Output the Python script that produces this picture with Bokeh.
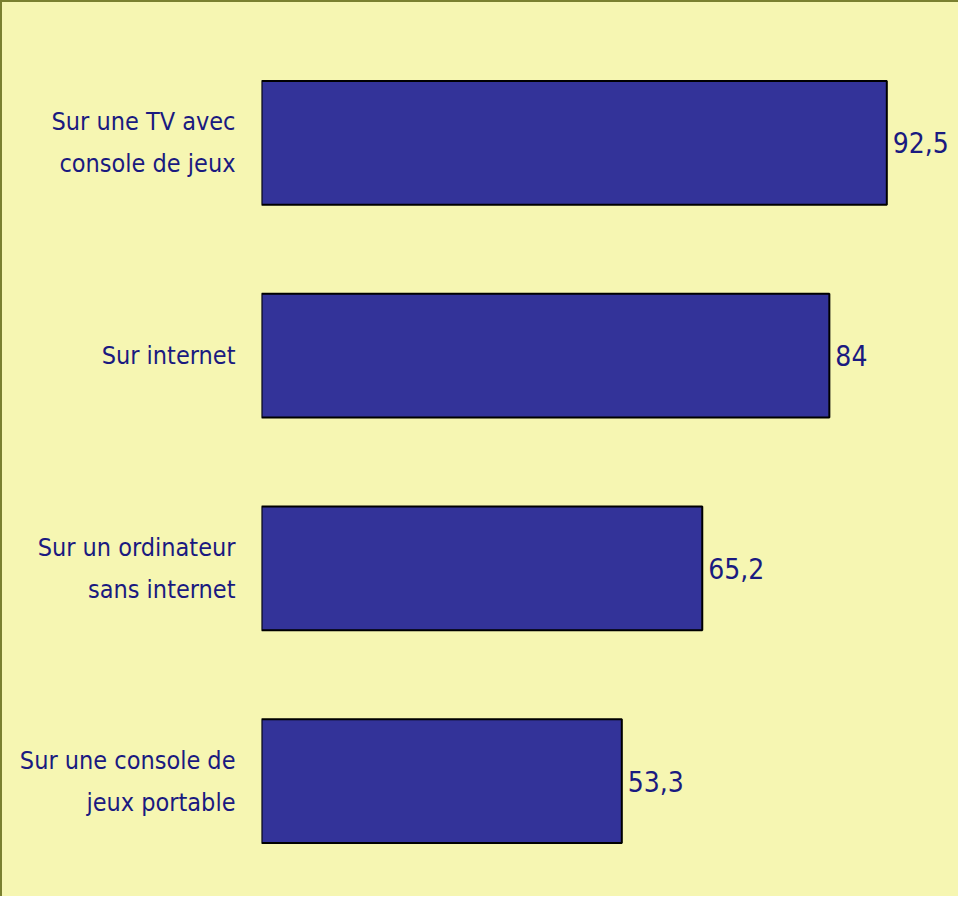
from bokeh.plotting import figure
from bokeh.models import ColumnDataSource, Range1d, FactorRange
from bokeh.embed import file_html
from bokeh.resources import INLINE
from bokeh.core.properties import value

categories = ["Sur une TV avec\nconsole de jeux", "Sur internet",
              "Sur un ordinateur\nsans internet", "Sur une console de\njeux portable"]
values = [92.5, 84, 65.2, 53.3]
value_labels = ["92,5", "84", "65,2", "53,3"]

BG = "#F6F6B2"
NAVY = "#333399"
TXT = "#1A1A80"
FONT = "'DejaVu Sans Condensed', Roboto, sans-serif"

src = ColumnDataSource(dict(cat=categories, val=values, lab=value_labels))

p = figure(width=958, height=896, output_backend="svg", toolbar_location=None,
           y_range=FactorRange(factors=categories[::-1]),
           x_range=Range1d(0, 103.4))
p.min_border_left = 259
p.min_border_right = 0
p.min_border_top = 34
p.min_border_bottom = 11
p.background_fill_color = BG
p.background_fill_alpha = 0
p.border_fill_color = BG
p.border_fill_alpha = 0
p.outline_line_color = None
p.grid.visible = False
p.xaxis.visible = False

p.hbar(y="cat", right="val", left=0, height=0.582, source=src,
       fill_color=NAVY, line_color="black", line_width=2)
p.text(x="val", y="cat", text="lab", source=src, x_offset=6,
       text_align="left", text_baseline="middle", text_color=TXT,
       text_font=value(FONT), text_font_size="28px")

ax = p.yaxis[0]
ax.axis_line_color = None
ax.major_tick_line_color = None
ax.minor_tick_line_color = None
ax.major_tick_out = 0
ax.major_tick_in = 0
ax.major_label_text_font = FONT
ax.major_label_text_font_size = "25px"
ax.major_label_text_line_height = 1.45
ax.major_label_text_color = TXT
ax.major_label_text_align = "center"
ax.major_label_standoff = 26

p.styles = {"background-color": BG,
            "border-left": "2px solid #7A8030", "border-top": "2px solid #7A8030"}

open("out.html", "w").write(file_html(p, INLINE))
